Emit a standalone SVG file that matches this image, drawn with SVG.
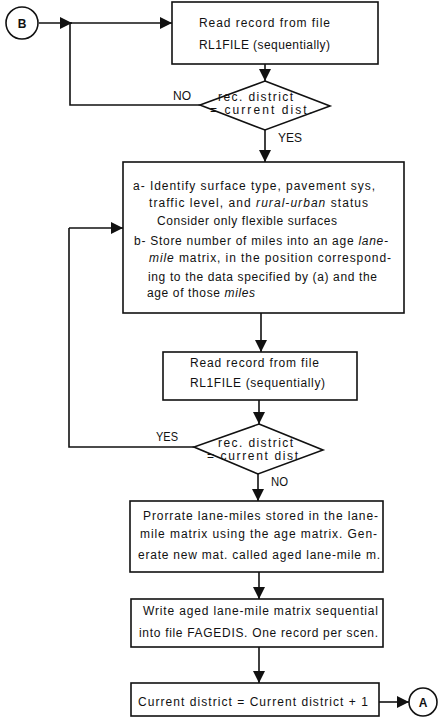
<svg xmlns="http://www.w3.org/2000/svg" width="442" height="717" viewBox="0 0 442 717">
  <style>
    .box { fill: #ffffff; stroke: #111111; stroke-width: 1.6; }
    .dia { fill: #ffffff; stroke: #111111; stroke-width: 1.6; }
    .con { fill: #ffffff; stroke: #111111; stroke-width: 1.6; }
    .link { fill: none; stroke: #111111; stroke-width: 1.6; }
    .arrow { marker-end: url(#head); }
    text { font-family: "Liberation Sans", Arial, sans-serif; font-size: 12px; fill: #111111; }
    .lbl { font-size: 12px; }
    .it { font-style: italic; }
  </style>
  <defs>
    <marker id="head" markerUnits="userSpaceOnUse" markerWidth="12" markerHeight="12" refX="12" refY="6" orient="auto">
      <path d="M0,0 L12,6 L0,12 z" fill="#111111"/>
    </marker>
  </defs>

  <!-- connectors -->
  <g id="connectors">
    <path class="link arrow" d="M39,23 H72"/>
    <path class="link arrow" d="M70,23 H172"/>
    <path class="link" d="M200,105 H70 V23"/>
    <path class="link arrow" d="M265,64 V81"/>
    <path class="link arrow" d="M265,130 V162"/>
    <path class="link arrow" d="M261,313 V352"/>
    <path class="link arrow" d="M259,400 V424"/>
    <path class="link" d="M194,447 H69 V228"/>
    <path class="link arrow" d="M69,228 H123"/>
    <path class="link arrow" d="M258,474 V501"/>
    <path class="link arrow" d="M259,572 V599"/>
    <path class="link arrow" d="M259,647 V683"/>
    <path class="link arrow" d="M379,702 H409"/>
    <text x="173" y="100" textLength="18" lengthAdjust="spacingAndGlyphs">NO</text>
    <text x="278" y="142" textLength="24" lengthAdjust="spacingAndGlyphs">YES</text>
    <text x="156" y="441" textLength="22" lengthAdjust="spacingAndGlyphs">YES</text>
    <text x="271" y="486" textLength="17" lengthAdjust="spacingAndGlyphs">NO</text>
  </g>

  <!-- connector B -->
  <g id="connB">
    <circle class="con" cx="22" cy="23" r="16"/>
    <text x="22" y="27.5" text-anchor="middle" font-weight="bold">B</text>
  </g>

  <!-- read first record -->
  <g id="read1">
    <rect class="box" x="172" y="2" width="206" height="62"/>
    <text x="199" y="27" textLength="131" lengthAdjust="spacing">Read record from file</text>
    <text x="199" y="49" textLength="131" lengthAdjust="spacing">RL1FILE  (sequentially)</text>
  </g>

  <!-- district test 1 -->
  <g id="test1">
    <polygon class="dia" points="265,81 330,106 265,130 200,105"/>
    <text x="218" y="101" textLength="75" lengthAdjust="spacing">rec.  district</text>
    <text x="210" y="114" textLength="102" lengthAdjust="spacing">= current dist.</text>
  </g>

  <!-- classify and store -->
  <g id="store">
    <rect class="box" x="123" y="162" width="281" height="151"/>
    <text x="133" y="190" textLength="242" lengthAdjust="spacing">a- Identify surface type, pavement sys,</text>
    <text x="149" y="207" textLength="219" lengthAdjust="spacing">traffic level, and <tspan class="it">rural-urban</tspan> status</text>
    <text x="157" y="225" textLength="180" lengthAdjust="spacing">Consider only flexible surfaces</text>
    <text x="134" y="245" textLength="254" lengthAdjust="spacing">b- Store number of miles into an age <tspan class="it">lane-</tspan></text>
    <text x="149" y="262" textLength="242" lengthAdjust="spacing"><tspan class="it">mile</tspan> matrix, in the position correspond-</text>
    <text x="148" y="281" textLength="229" lengthAdjust="spacing">ing to the data specified by (a) and the</text>
    <text x="147" y="297" textLength="108" lengthAdjust="spacing">age of those <tspan class="it">miles</tspan></text>
  </g>

  <!-- read next record -->
  <g id="read2">
    <rect class="box" x="163" y="352" width="194" height="48"/>
    <text x="190" y="367" textLength="129" lengthAdjust="spacing">Read record from file</text>
    <text x="190" y="387" textLength="135" lengthAdjust="spacing">RL1FILE  (sequentially)</text>
  </g>

  <!-- district test 2 -->
  <g id="test2">
    <polygon class="dia" points="259,424 323,450 258,474 194,447"/>
    <text x="218" y="447" textLength="75" lengthAdjust="spacing">rec.  district</text>
    <text x="207" y="460" textLength="91" lengthAdjust="spacing">= current dist</text>
  </g>

  <!-- prorate -->
  <g id="prorate">
    <rect class="box" x="130" y="501" width="253" height="71"/>
    <text x="143" y="520" textLength="235" lengthAdjust="spacing">Prorrate lane-miles stored in the lane-</text>
    <text x="140" y="538" textLength="237" lengthAdjust="spacing">mile matrix using the age matrix. Gen-</text>
    <text x="138" y="559" textLength="242" lengthAdjust="spacing">erate new mat. called aged lane-mile m.</text>
  </g>

  <!-- write matrix -->
  <g id="write">
    <rect class="box" x="131" y="599" width="252" height="48"/>
    <text x="143" y="615" textLength="235" lengthAdjust="spacing">Write aged lane-mile matrix sequential</text>
    <text x="139" y="637" textLength="239" lengthAdjust="spacing">into file FAGEDIS. One record per scen.</text>
  </g>

  <!-- increment district -->
  <g id="increment">
    <rect class="box" x="131" y="683" width="248" height="33"/>
    <text x="138" y="706" textLength="230" lengthAdjust="spacing">Current  district  =  Current  district  +  1</text>
  </g>

  <!-- connector A -->
  <g id="connA">
    <circle class="con" cx="423" cy="702" r="14"/>
    <text x="423" y="706.5" text-anchor="middle" font-weight="bold">A</text>
  </g>
</svg>
